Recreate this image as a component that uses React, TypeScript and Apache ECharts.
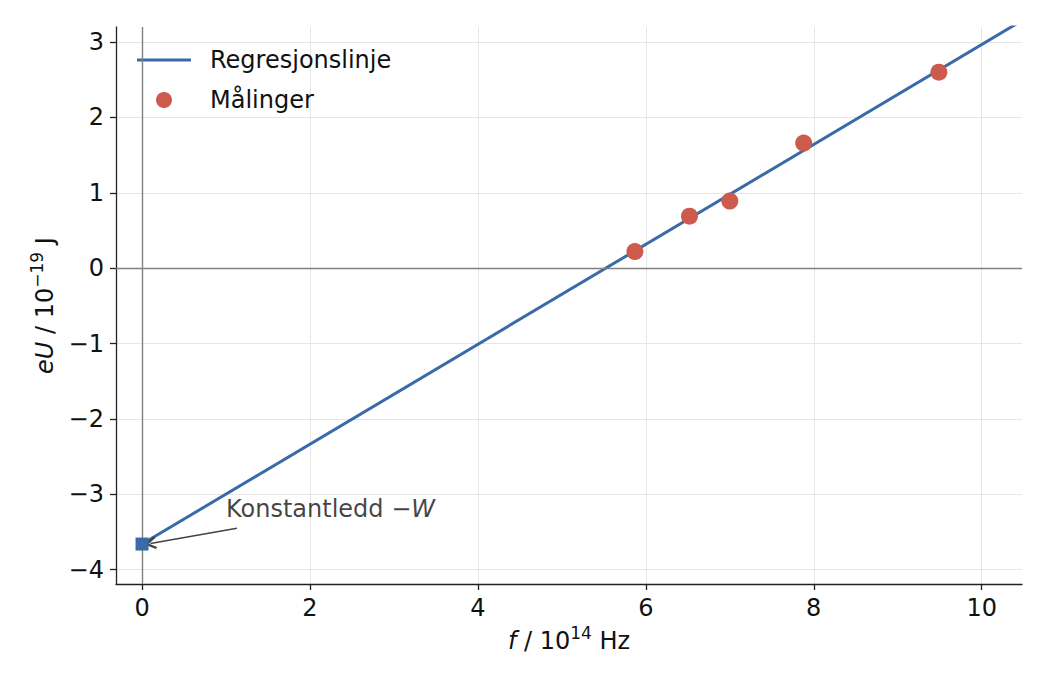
import { useEffect, useRef } from "react";
import * as echarts from "echarts";

// photoelectric effect: stopping energy vs frequency, with regression line
const xTicks = [0, 2, 4, 6, 8, 10];
const yTicks = [-4, -3, -2, -1, 0, 1, 2, 3];

const freq = [5.87, 6.52, 7.0, 7.88, 9.49];
const energy = [0.22, 0.69, 0.89, 1.66, 2.6];

const fitX = [0, 11];
const fitY = [-3.66, 3.63];

const interceptPoint = [0, -3.66];
const labelAt = [1.0, -3.2];
const arrowFrom = [1.13, -3.45];
const arrowTo = [0.1, -3.652];

const FONT = "DejaVu Sans";
const BLUE = "#3a6aa8";
const RED = "#cc5a4d";
const INK = "#111";

const fmt = (v: number) => (v < 0 ? "\u2212" + Math.abs(v) : String(v));

const nameRich = {
  i: { fontFamily: FONT, fontSize: 24, fontStyle: "italic", color: INK },
  n: { fontFamily: FONT, fontSize: 24, color: INK },
  s: { fontFamily: FONT, fontSize: 17, color: INK, padding: [0, 0, 16, 0] },
};

export default function App() {
  const ref = useRef<HTMLDivElement>(null);

  useEffect(() => {
    document.body.style.margin = "0";
    if (!ref.current) return;
    const chart = echarts.init(ref.current, null, { renderer: "svg" });

    chart.setOption({
      animation: false,
      backgroundColor: "#fff",
      textStyle: { fontFamily: FONT },
      grid: { left: 116, right: 28, top: 27, bottom: 106, containLabel: false },
      legend: {
        left: 137,
        top: 48,
        orient: "vertical",
        padding: 0,
        itemWidth: 54,
        itemHeight: 16,
        itemGap: 16,
        data: [
          { name: "Regresjonslinje", icon: "path://M0,0 H54 V3 H0 Z" },
          { name: "Målinger", icon: "circle" },
        ],
        textStyle: {
          fontFamily: FONT,
          fontSize: 24,
          lineHeight: 24,
          color: INK,
          padding: [0, 0, 0, 14],
        },
      },
      xAxis: {
        type: "value",
        min: -0.31,
        max: 10.48,
        name: "{i|f}{n| / 10}{s|14}{n| Hz}",
        nameLocation: "middle",
        nameGap: 40,
        nameTextStyle: { fontFamily: FONT, fontSize: 24, color: INK, rich: nameRich },
        axisLine: { show: true, onZero: false, lineStyle: { color: "#222", width: 1.3 } },
        axisTick: { show: true, length: 6, customValues: xTicks, lineStyle: { color: "#222", width: 1.3 } },
        axisLabel: {
          customValues: xTicks,
          margin: 12,
          fontFamily: FONT,
          fontSize: 24,
          color: INK,
          formatter: fmt,
        },
        splitLine: { show: true, lineStyle: { color: "#e6e6e6", width: 1 } },
      },
      yAxis: {
        type: "value",
        min: -4.19,
        max: 3.2,
        name: "{i|eU}{n| / 10}{s|\u221219}{n| J}",
        nameLocation: "middle",
        nameRotate: 90,
        nameGap: 55,
        nameTextStyle: { fontFamily: FONT, fontSize: 24, color: INK, rich: nameRich },
        axisLine: { show: true, onZero: false, lineStyle: { color: "#222", width: 1.3 } },
        axisTick: { show: true, length: 6, customValues: yTicks, lineStyle: { color: "#222", width: 1.3 } },
        axisLabel: {
          customValues: yTicks,
          margin: 12,
          fontFamily: FONT,
          fontSize: 24,
          color: INK,
          formatter: fmt,
        },
        splitLine: { show: true, lineStyle: { color: "#e6e6e6", width: 1 } },
      },
      series: [
        {
          // zero reference lines
          type: "line",
          data: [],
          silent: true,
          z: 1,
          markLine: {
            silent: true,
            symbol: "none",
            label: { show: false },
            lineStyle: { color: "#808080", width: 1.4, type: "solid" },
            data: [{ yAxis: 0 }, { xAxis: 0 }],
          },
        },
        {
          name: "Regresjonslinje",
          type: "line",
          z: 3,
          symbol: "none",
          clip: true,
          lineStyle: { color: BLUE, width: 3 },
          itemStyle: { color: BLUE },
          data: fitX.map((x, i) => [x, fitY[i]]),
        },
        {
          name: "Målinger",
          type: "scatter",
          z: 4,
          symbol: "circle",
          symbolSize: 17,
          itemStyle: { color: RED, opacity: 1 },
          data: freq.map((x, i) => [x, energy[i]]),
        },
        {
          // intercept marker and annotation arrow
          type: "scatter",
          z: 5,
          symbol: "rect",
          symbolSize: 13,
          itemStyle: { color: BLUE, opacity: 1 },
          data: [interceptPoint],
          markLine: {
            silent: true,
            symbol: ["none", "path://M5,0 L10,8 L8.6,9.2 L5,3.4 L1.4,9.2 L0,8 Z"],
            symbolSize: [13, 12],
            label: { show: false },
            lineStyle: { color: "#444", width: 1.5, type: "solid" },
            itemStyle: { color: "#444" },
            data: [[{ coord: arrowFrom }, { coord: arrowTo }]],
          },
        },
        {
          type: "scatter",
          z: 6,
          silent: true,
          symbolSize: 0,
          data: [labelAt],
          label: {
            show: true,
            position: [0, 0],
            align: "left",
            verticalAlign: "middle",
            color: INK,
            formatter: "{n|Konstantledd \u2212}{i|W}",
            rich: {
              n: { fontFamily: FONT, fontSize: 24, color: INK },
              i: { fontFamily: FONT, fontSize: 24, fontStyle: "italic", color: INK },
            },
          },
        },
      ],
    });

    return () => chart.dispose();
  }, []);

  return <div ref={ref} style={{ width: 1050, height: 690 }} />;
}
